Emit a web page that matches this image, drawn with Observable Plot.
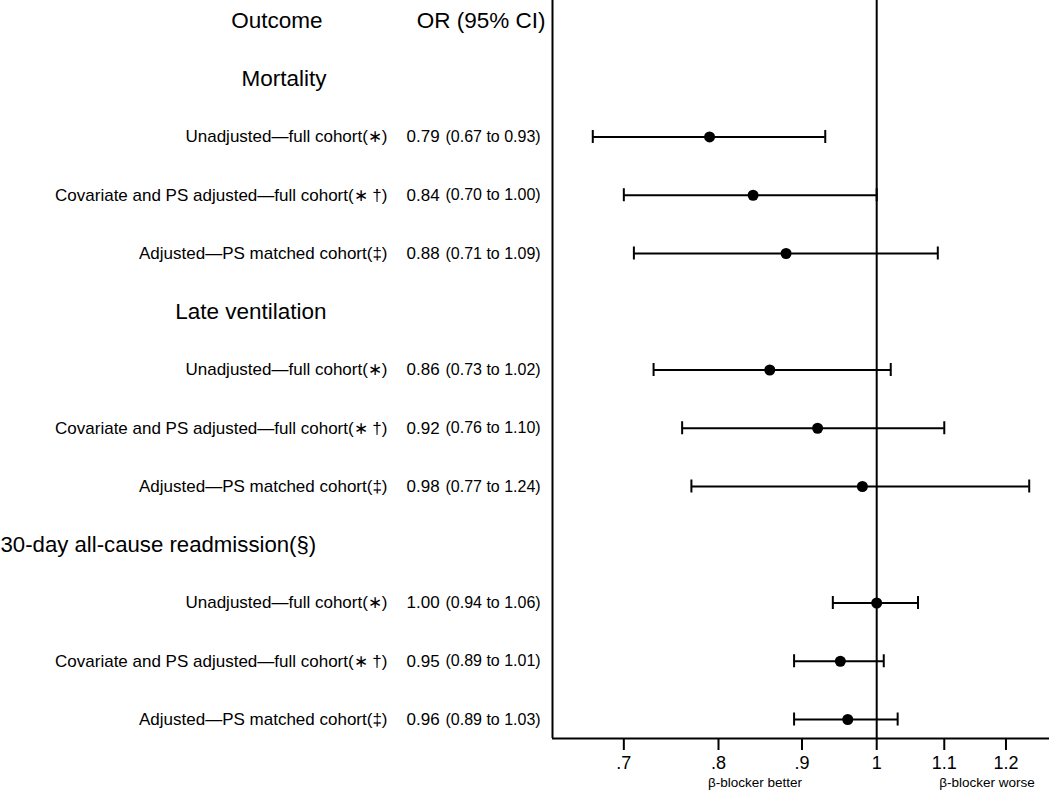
<!DOCTYPE html>
<html>
<head>
<meta charset="utf-8">
<script src="https://cdn.jsdelivr.net/npm/d3@7"></script>
<script src="https://cdn.jsdelivr.net/npm/@observablehq/plot@0.6"></script>
<style>
  html, body { margin: 0; padding: 0; background: #fff; overflow: hidden; }
  #chart svg { display: block; font-family: "Liberation Sans", Arial, Helvetica, sans-serif; }
</style>
</head>
<body>
<div id="chart"></div>
<script>
// ---- data ----
const groups = ["Mortality", "Late ventilation", "30-day all-cause readmission(§)"];
const analyses = [
  "Unadjusted—full cohort(∗)",
  "Covariate and PS adjusted—full cohort(∗ †)",
  "Adjusted—PS matched cohort(‡)"
];
const estimate = [0.79, 0.84, 0.88, 0.86, 0.92, 0.98, 1.00, 0.95, 0.96];
const lower    = [0.67, 0.70, 0.71, 0.73, 0.76, 0.77, 0.94, 0.89, 0.89];
const upper    = [0.93, 1.00, 1.09, 1.02, 1.10, 1.24, 1.06, 1.01, 1.03];
const tickValues = [0.7, 0.8, 0.9, 1, 1.1, 1.2];
const tickLabels = [".7", ".8", ".9", "1", "1.1", "1.2"];
const headers = ["Outcome", "OR (95% CI)"];
const sideNotes = ["β-blocker better", "β-blocker worse"];

// ---- build table ----
const rows = [];
const groupRows = [];
groups.forEach((g, gi) => {
  groupRows.push({label: g, row: 1 + gi * 4, first: gi === groups.length - 1});
  analyses.forEach((a, ai) => {
    const i = gi * 3 + ai;
    rows.push({
      label: a,
      row: 2 + gi * 4 + ai,
      est: estimate[i],
      lo: lower[i],
      hi: upper[i],
      estText: estimate[i].toFixed(2),
      ciText: `(${lower[i].toFixed(2)} to ${upper[i].toFixed(2)})`
    });
  });
});
const ticks = tickValues.map((v, i) => ({v, label: tickLabels[i]}));

const xDomain = [0.633, 1.276];
const yDomain = [-0.343, 12.326];
const rowPx = 58.25;
const capHalf = 6.5 / rowPx;
const tickLen = 12 / rowPx;

const chart = Plot.plot({
  width: 1050,
  height: 794,
  marginLeft: 552,
  marginRight: 1,
  marginTop: 0,
  marginBottom: 56,
  style: {background: "#fff", color: "#000", overflow: "visible"},
  x: {type: "log", domain: xDomain, axis: null},
  y: {domain: yDomain, reverse: true, axis: null},
  marks: [
    // frame lines
    Plot.ruleX([xDomain[0]], {stroke: "#000", strokeWidth: 2}),
    Plot.ruleY([yDomain[1]], {stroke: "#000", strokeWidth: 2}),
    Plot.ruleX([1], {stroke: "#000", strokeWidth: 2}),
    // axis ticks and labels
    Plot.ruleX(ticks, {x: "v", y1: () => yDomain[1], y2: () => yDomain[1] + tickLen, stroke: "#000", strokeWidth: 2}),
    Plot.text(ticks, {x: "v", text: "label", frameAnchor: "bottom", dy: 30, fontSize: 18, fill: "#000"}),
    Plot.text([sideNotes[0]], {x: [tickValues[2]], frameAnchor: "bottom", dy: 48, textAnchor: "end", fontSize: 13.5, fill: "#000"}),
    Plot.text([sideNotes[1]], {x: [tickValues[4]], frameAnchor: "bottom", dy: 48, dx: -5, textAnchor: "start", fontSize: 13.5, fill: "#000"}),
    // CIs
    Plot.ruleY(rows, {y: "row", x1: "lo", x2: "hi", stroke: "#000", strokeWidth: 2}),
    Plot.ruleX(rows, {x: "lo", y1: d => d.row - capHalf, y2: d => d.row + capHalf, stroke: "#000", strokeWidth: 2}),
    Plot.ruleX(rows, {x: "hi", y1: d => d.row - capHalf, y2: d => d.row + capHalf, stroke: "#000", strokeWidth: 2}),
    Plot.dot(rows, {x: "est", y: "row", r: 5.5, fill: "#000", stroke: "none"}),
    // left table
    Plot.text([headers[0]], {y: [0], frameAnchor: "left", dx: -230, textAnchor: "end", fontSize: 22.5, fill: "#000"}),
    Plot.text([headers[1]], {y: [0], frameAnchor: "left", dx: -7, textAnchor: "end", fontSize: 22.5, fill: "#000"}),
    Plot.text(groupRows.filter(d => !d.first), {y: "row", text: "label", frameAnchor: "left", dx: -226, textAnchor: "end", fontSize: 22.5, fill: "#000"}),
    Plot.text(groupRows.filter(d => d.first), {y: "row", text: "label", frameAnchor: "left", dx: -552, textAnchor: "start", fontSize: 22.2, fill: "#000"}),
    Plot.text(rows, {y: "row", text: "label", frameAnchor: "left", dx: -165, textAnchor: "end", fontSize: 17, fill: "#000"}),
    Plot.text(rows, {y: "row", text: "estText", frameAnchor: "left", dx: -146, textAnchor: "start", fontSize: 17, fill: "#000"}),
    Plot.text(rows, {y: "row", text: "ciText", frameAnchor: "left", dx: -107, textAnchor: "start", fontSize: 16, fill: "#000"})
  ]
});
document.getElementById("chart").append(chart);
</script>
</body>
</html>
